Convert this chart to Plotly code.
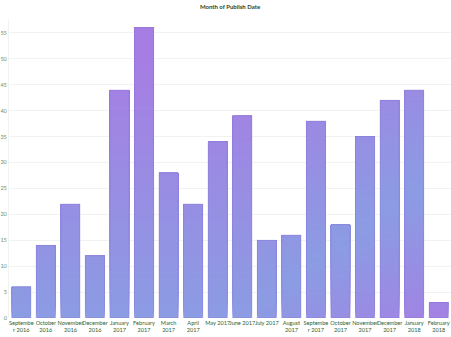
import plotly.graph_objects as go

# Publications per month
months = ["Sep 2016", "Oct 2016", "Nov 2016", "Dec 2016", "Jan 2017", "Feb 2017",
          "Mar 2017", "Apr 2017", "May 2017", "Jun 2017", "Jul 2017", "Aug 2017",
          "Sep 2017", "Oct 2017", "Nov 2017", "Dec 2017", "Jan 2018", "Feb 2018"]
counts = [6, 14, 22, 12, 44, 56, 28, 22, 34, 39, 15, 16, 38, 18, 35, 42, 44, 3]
tick_labels = ["Septembe<br>r 2016", "October<br>2016", "November<br>2016", "December<br>2016",
               "January<br>2017", "February<br>2017", "March<br>2017", "April<br>2017",
               "May 2017", "June 2017", "July 2017", "August<br>2017", "Septembe<br>r 2017",
               "October<br>2017", "November<br>2017", "December<br>2017", "January<br>2018",
               "February<br>2018"]
y_ticks = list(range(0, 60, 5))

BLUE = (139, 156, 227)
PURPLE = (166, 126, 227)


def grad_color(i, y):
    # a blue band rising diagonally from the lower left, purple on either side of it
    y_c = max(0, i - 9) * 3.5
    if y >= y_c:
        t = (y - y_c) / (50.0 - 0.5 * y_c)
    else:
        t = (y_c - y) / 32.0
    t = min(1.0, max(0.0, t))
    r, g, b = (round(a + (c - a) * t) for a, c in zip(BLUE, PURPLE))
    return f"rgb({r},{g},{b})"


# Gradient fill: each layer starts a little higher and runs to the bar's top,
# so the next layer paints over it and no gaps show between bands.
step = 0.5
levels = int(max(counts) / step) + 1
fig = go.Figure()
for k in range(levels):
    base = k * step
    seg = [max(0.0, v - base) for v in counts]
    if not any(seg):
        continue
    fig.add_trace(go.Bar(
        x=months, y=seg, base=base,
        marker=dict(color=[grad_color(i, base + step / 2) for i in range(len(counts))],
                    line=dict(width=0)),
        hoverinfo="skip", showlegend=False,
    ))

# thin outline round each bar
fig.add_trace(go.Bar(
    x=months, y=counts, base=0,
    marker=dict(color="rgba(0,0,0,0)", line=dict(color="rgba(125,100,210,0.3)", width=1)),
    hoverinfo="skip", showlegend=False,
))

fig.update_layout(
    width=451, height=337,
    margin=dict(l=9, r=0, t=20, b=19),
    barmode="overlay", bargap=0.22,
    plot_bgcolor="white", paper_bgcolor="white",
    font=dict(family="Lato", size=5.6, color="#2f5e2f"),
    title=dict(text="<b>Month of Publish Date</b>", x=0.51, xanchor="center",
               y=0.985, yanchor="top", font=dict(size=6, color="#1f4a1f")),
    xaxis=dict(tickmode="array", tickvals=months, ticktext=tick_labels,
               tickangle=0, showgrid=False, showline=False, ticks="",
               tickfont=dict(size=5.6, color="#2f5e2f"), range=[-0.5, 17.5]),
    yaxis=dict(range=[0, 57.5], tickvals=y_ticks, showgrid=True, gridcolor="#f0f3f0",
               gridwidth=1, zeroline=False, showline=True, linecolor="#f0f3f0",
               ticks="", tickfont=dict(size=5.6, color="#6d946d")),
)

fig.write_html("out.html")
